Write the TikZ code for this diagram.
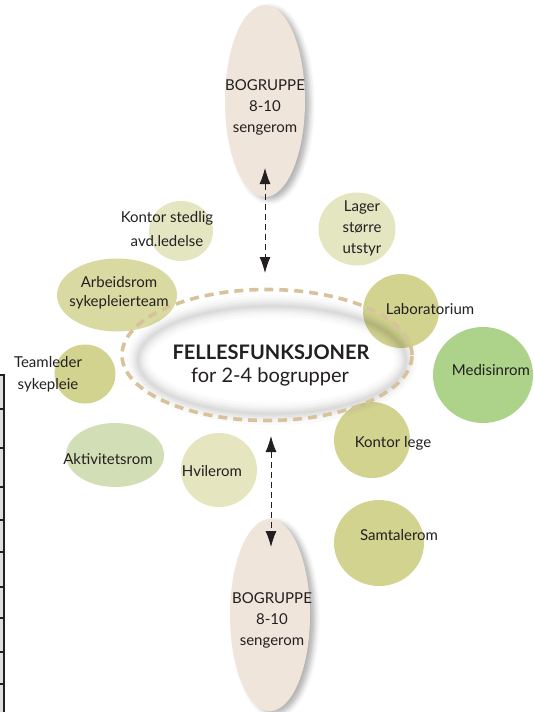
\documentclass[tikz,border=0pt]{standalone}
\usepackage{fontspec}
\setmainfont{Lato}
\usetikzlibrary{shapes.geometric,shadows.blur,arrows.meta}
\definecolor{bogfill}{HTML}{EFE5DA}
\definecolor{tan}{HTML}{D8C29C}
\definecolor{olive}{HTML}{D3D390}
\definecolor{pale}{HTML}{E4E6C2}
\definecolor{medgreen}{HTML}{ADD28A}
\definecolor{aktgreen}{HTML}{D2DEB5}
\definecolor{hvile}{HTML}{E5E5BF}
\definecolor{txt}{HTML}{231F20}
\tikzset{
  room/.style={ellipse, draw=none, inner sep=0pt},
  bog/.style={ellipse, draw=none, inner sep=0pt, fill=bogfill, minimum width=80, minimum height=192,
    blur shadow={shadow xshift=5pt, shadow yshift=-3pt, shadow blur radius=5pt, shadow opacity=30}},
  lbl/.style={text=txt, align=center, inner sep=0pt, font=\fontsize{15}{21}\selectfont},
  darrow/.style={draw=txt, line width=0.9pt, dash pattern=on 6pt off 4pt, {Latex[length=16pt,width=11pt]}-{Latex[length=16pt,width=11pt]}},
}
\begin{document}
\begin{tikzpicture}[x=1pt,y=-1pt]
\useasboundingbox (0,0) rectangle (534,712);
% left frame fragment
\fill[gray!25] (0,376) rectangle (3,712);
\draw[txt, line width=2.6pt] (0,375) -- (5,375);
\draw[txt, line width=2.6pt] (4,374) -- (4,712);
\foreach \yy in {409,448,487,520,552,587,618,652,684}
  \draw[txt, line width=1.6pt] (0,\yy) -- (4,\yy);
% rooms
\node[room, fill=pale, minimum width=64, minimum height=60] (kontorst) at (181,231) {};
\node[room, fill=pale, minimum width=77, minimum height=73] (lager) at (357,229) {};
\node[room, fill=olive, minimum width=76, minimum height=74] (lab) at (401,311) {};
\node[room, fill=medgreen, minimum width=100, minimum height=96] (med) at (483,375) {};
\node[room, fill=olive, minimum width=76, minimum height=76] (kontorlege) at (372,440) {};
\node[room, fill=olive, minimum width=90, minimum height=86] (samtale) at (379,543) {};
\node[room, fill=olive!65!pale, minimum width=120, minimum height=73] (arbeid) at (117,295) {};
\node[room, fill=olive, minimum width=61, minimum height=59] (teamleder) at (85,374) {};
\node[room, fill=aktgreen, minimum width=98, minimum height=64] (akt) at (115,455) {};
\node[room, fill=hvile, minimum width=76, minimum height=74] (hvile) at (219,470) {};
% bogruppe
\node[bog] (bogtop) at (265,101) {};
\node[bog] (bogbot) at (270,615) {};
% center glow
\foreach \w/\o in {22/0.02,16/0.025,11/0.03,7/0.035,3/0.04}
  \draw[black, line width=\w pt, opacity=\o] (272,360) ellipse [x radius=134, y radius=54];
% central dashed ellipse
\node[ellipse, draw=tan, line width=3.6pt, dash pattern=on 9pt off 6pt, minimum width=290, minimum height=131, inner sep=0pt] (felles) at (267,355) {};
\node[text=txt, inner sep=0pt, font=\fontsize{20}{24}\selectfont\bfseries] (fellestitle) at (271,352) {FELLESFUNKSJONER};
\node[text=txt, inner sep=0pt, font=\fontsize{20}{24}\selectfont] (fellessub) at (270,377) {for 2-4 bogrupper};
% arrows
\coordinate (a1) at (265,168);
\coordinate (a2) at (265,273);
\coordinate (b1) at (271,436);
\coordinate (b2) at (271,547);
\draw[darrow] (a1) -- (a2);
\draw[darrow] (b1) -- (b2);
% labels
\node[lbl] (tbogtop) at (265,107) {BOGRUPPE\\8-10\\sengerom};
\node[lbl] (tbogbot) at (272,620) {BOGRUPPE\\8-10\\sengerom};
\node[lbl, font=\fontsize{15}{24}\selectfont] (tkontorst) at (167,229) {Kontor stedlig\\avd.ledelse};
\node[lbl] (tlager) at (362,228) {Lager\\større\\utstyr};
\node[lbl] (tlab) at (430,309) {Laboratorium};
\node[lbl] (tmed) at (491,370) {Medisinrom};
\node[lbl] (tkontorlege) at (393,443) {Kontor lege};
\node[lbl] (tsamtale) at (399,535) {Samtalerom};
\node[lbl, font=\fontsize{15}{19}\selectfont] (tarbeid) at (119,293) {Arbeidsrom\\sykepleierteam};
\node[lbl, font=\fontsize{15}{22}\selectfont] (tteam) at (48,374) {Teamleder\\sykepleie};
\node[lbl] (takt) at (108,459) {Aktivitetsrom};
\node[lbl] (thvile) at (212,471) {Hvilerom};
\end{tikzpicture}
\end{document}
